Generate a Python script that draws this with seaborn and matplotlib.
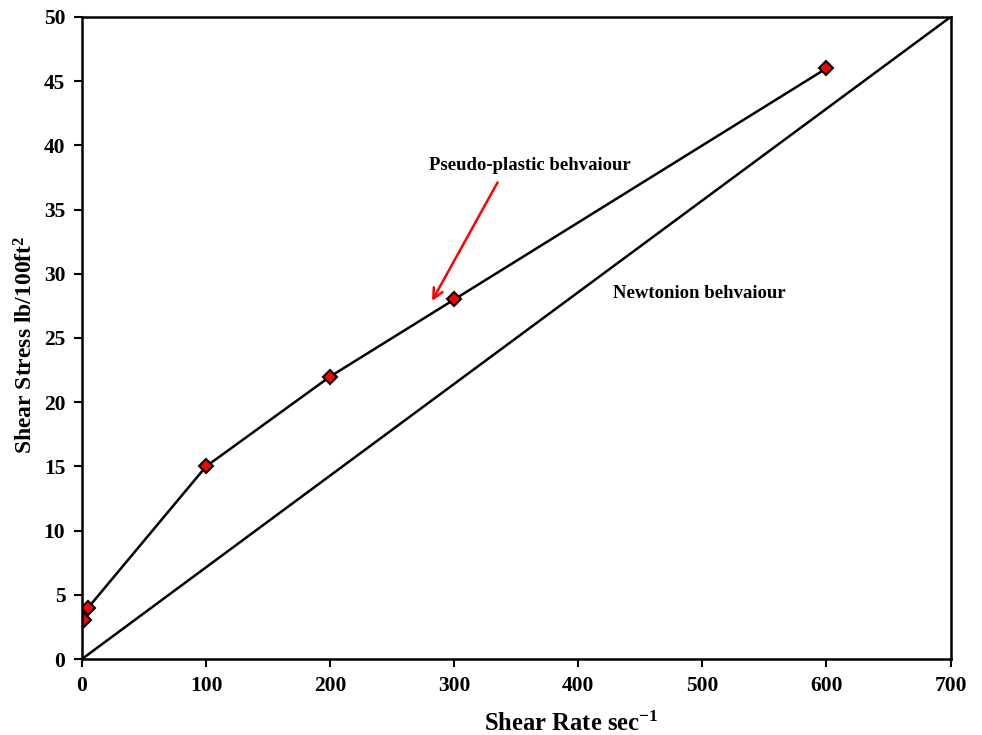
import matplotlib
matplotlib.use("Agg")
import matplotlib.pyplot as plt
import seaborn as sns
import pandas as pd

shear_rate = [2, 5, 100, 200, 300, 600]
shear_stress = [3, 4, 15, 22, 28, 46]
newton_x = [0, 700]
newton_y = [0, 50]
x_ticks = [0, 100, 200, 300, 400, 500, 600, 700]
y_ticks = [0, 5, 10, 15, 20, 25, 30, 35, 40, 45, 50]

sns.set_theme(style="white")
plt.rcParams['font.family'] = ['Liberation Serif', 'DejaVu Serif']
plt.rcParams['font.weight'] = 'bold'
plt.rcParams['text.color'] = 'black'
plt.rcParams['axes.labelcolor'] = 'black'
plt.rcParams['xtick.color'] = 'black'
plt.rcParams['ytick.color'] = 'black'
plt.rcParams['mathtext.fontset'] = 'custom'
plt.rcParams['mathtext.bf'] = 'Liberation Serif:bold'
plt.rcParams['mathtext.rm'] = 'Liberation Serif:bold'
plt.rcParams['mathtext.it'] = 'Liberation Serif:bold'
plt.rcParams['mathtext.default'] = 'bf'

fig = plt.figure(figsize=(9.82, 7.35), dpi=100)
ax = fig.add_axes([0.0835, 0.1034, 0.8845, 0.8735])

df = pd.DataFrame({"x": shear_rate, "y": shear_stress})
dn = pd.DataFrame({"x": newton_x, "y": newton_y})
sns.lineplot(data=dn, x="x", y="y", ax=ax, color="black", linewidth=1.8, sort=False)
sns.lineplot(data=df, x="x", y="y", ax=ax, color="black", linewidth=1.8, sort=False,
             marker="D", markersize=7, markerfacecolor="red", markeredgecolor="black",
             markeredgewidth=1.5)

ax.set_xlim(0, 700)
ax.set_ylim(0, 50)
ax.set_xticks(x_ticks)
ax.set_yticks(y_ticks)
ax.tick_params(axis="both", direction="out", length=6, width=1.5, labelsize=15.5,
               bottom=True, left=True, top=False, right=False, pad=6)
for lab in ax.get_xticklabels() + ax.get_yticklabels():
    lab.set_fontweight("bold")
for s in ax.spines.values():
    s.set_color("black")
    s.set_linewidth(1.8)

ax.set_xlabel("Shear Rate sec$^{-1}$", fontsize=17.7, fontweight="bold")
ax.xaxis.set_label_coords(0.563, -0.082)
ax.set_ylabel("Shear Stress lb/100ft$^{2}$", fontsize=17, fontweight="bold")
ax.yaxis.set_label_coords(-0.051, 0.49)

ax.text(280, 38.4, "Pseudo-plastic behvaiour", fontsize=13.5, fontweight="bold", va="center", ha="left")
ax.text(428, 28.5, "Newtonion behvaiour", fontsize=13.5, fontweight="bold", va="center", ha="left")
ax.annotate("", xy=(281, 27.7), xytext=(336, 37.3),
            arrowprops=dict(arrowstyle="->", color="red", lw=1.8, mutation_scale=18))

fig.savefig("out.png", dpi=100)
